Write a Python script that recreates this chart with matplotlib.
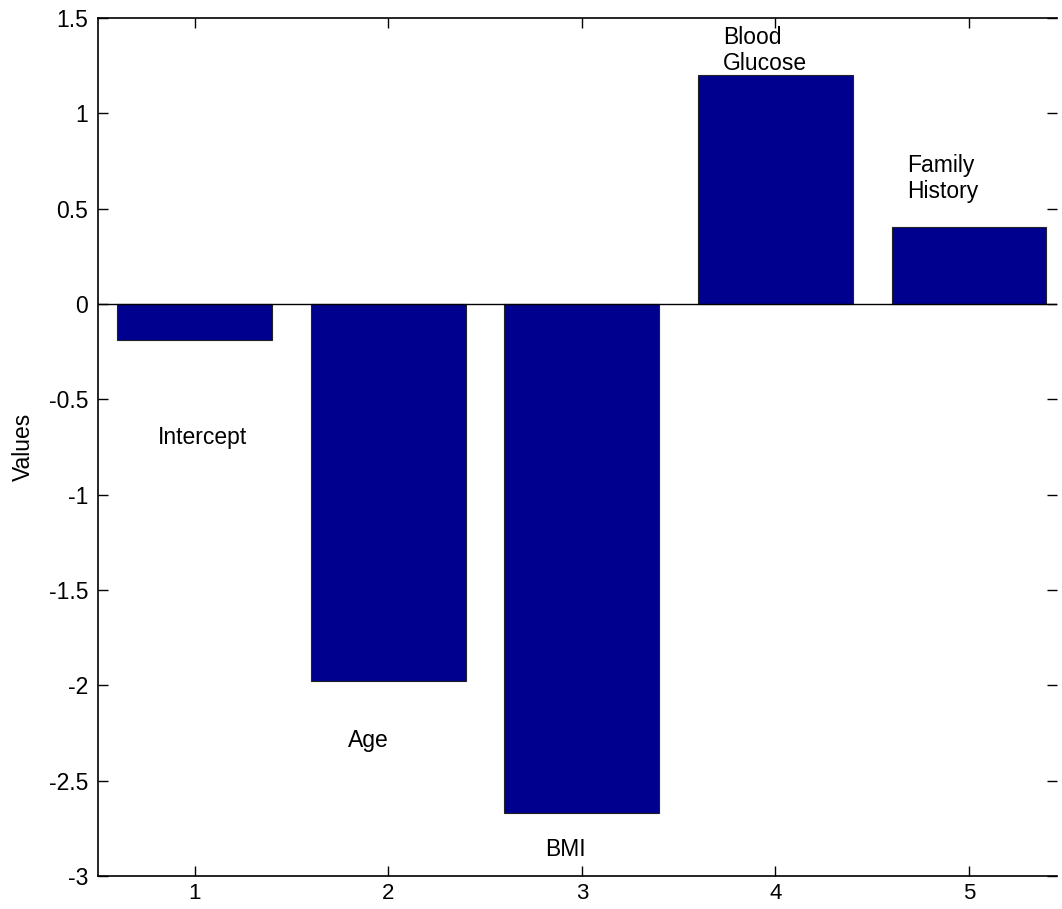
import matplotlib
matplotlib.use("Agg")
import matplotlib.pyplot as plt

# coefficient values per predictor
positions = [1, 2, 3, 4, 5]
values = [-0.19, -1.975, -2.67, 1.20, 0.405]

# text annotations (MATLAB text() calls: left aligned, vertically centered)
label_texts = ["Intercept", "Age", "BMI", "Blood\nGlucose", "Family\nHistory"]
label_x = [0.81, 1.79, 2.81, 3.73, 4.68]
label_y = [-0.70, -2.29, -2.86, 1.33, 0.66]

plt.rcParams["font.family"] = ["Liberation Sans", "DejaVu Sans"]

fig = plt.figure(figsize=(10.62, 9.09), dpi=100)
ax = fig.add_axes([0.0923, 0.0363, 0.9030, 0.9439])

ax.bar(positions, values, width=0.8, color="#00008F", edgecolor="#222222",
       linewidth=0.8, zorder=2)
ax.axhline(0, color="black", linewidth=1.0, zorder=3)

for txt, x, y in zip(label_texts, label_x, label_y):
    ax.text(x, y, txt, ha="left", va="center", fontsize=16.5, linespacing=1.15)

ax.set_xlim(0.5, 5.455)
ax.set_ylim(-3, 1.5)
ax.set_xticks(positions)
ax.set_yticks([-3, -2.5, -2, -1.5, -1, -0.5, 0, 0.5, 1, 1.5])
ax.set_yticklabels(["-3", "-2.5", "-2", "-1.5", "-1", "-0.5", "0", "0.5", "1", "1.5"])
ax.set_ylabel("Values", fontsize=16.5, labelpad=10)

ax.tick_params(direction="in", length=7, width=1.0, labelsize=16.5,
               top=True, right=True, pad=7)
ax.tick_params(axis="x", labelsize=16, pad=5)
ax.spines["right"].set_visible(False)
for s in ["left", "top", "bottom"]:
    ax.spines[s].set_linewidth(1.2)

plt.savefig("out.png", dpi=100)
